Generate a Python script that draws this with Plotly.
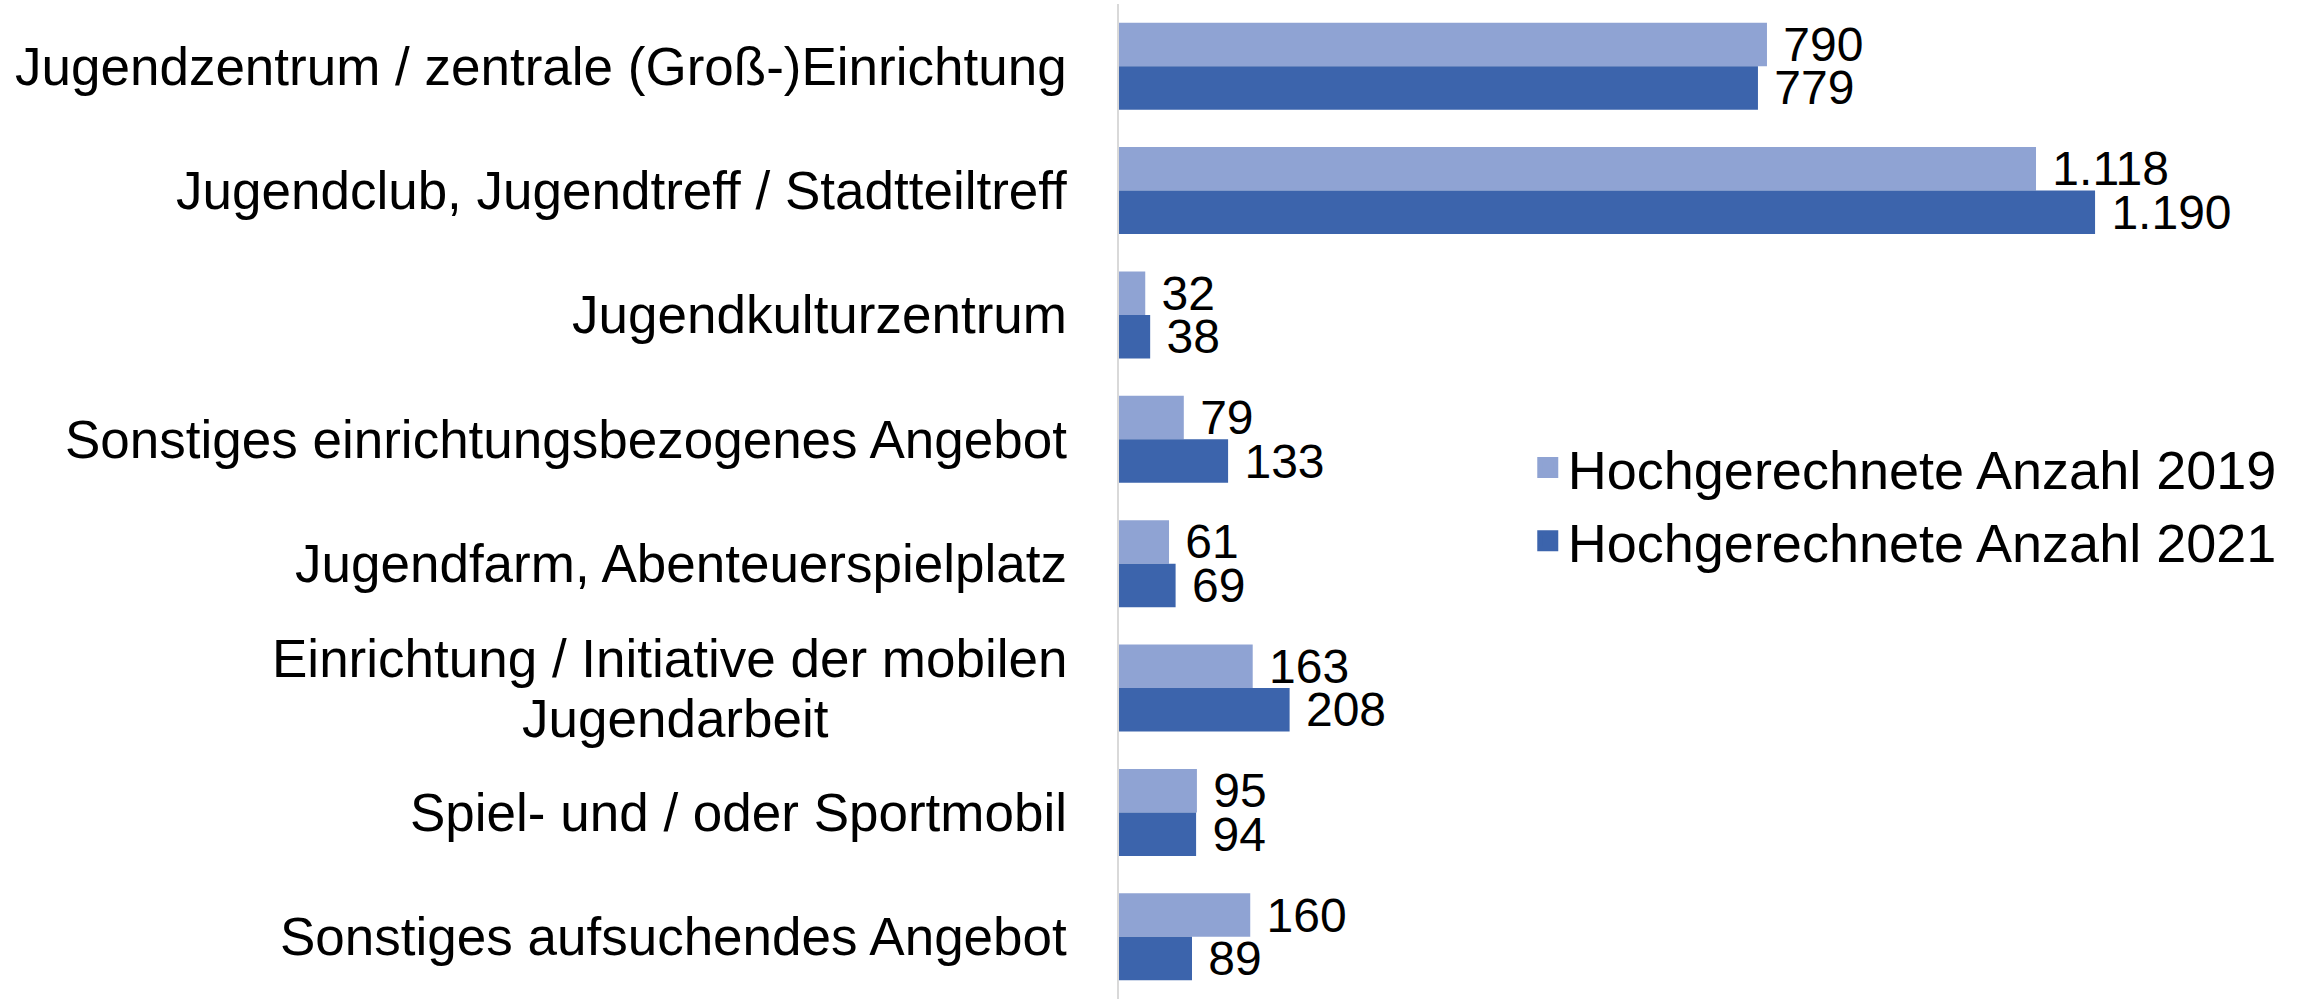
import plotly.graph_objects as go

categories = [
    "Jugendzentrum / zentrale (Groß-)Einrichtung",
    "Jugendclub, Jugendtreff / Stadtteiltreff",
    "Jugendkulturzentrum",
    "Sonstiges einrichtungsbezogenes Angebot",
    "Jugendfarm, Abenteuerspielplatz",
    "Einrichtung / Initiative der mobilen<br>Jugendarbeit",
    "Spiel- und / oder Sportmobil",
    "Sonstiges aufsuchendes Angebot",
]
values_2019 = [790, 1118, 32, 79, 61, 163, 95, 160]
values_2021 = [779, 1190, 38, 133, 69, 208, 94, 89]
series_names = ["Hochgerechnete Anzahl 2019", "Hochgerechnete Anzahl 2021"]
colors = ["#8FA3D3", "#3C64AC"]

FONT = "Liberation Sans, Arial, sans-serif"
LABEL_SIZE = 53
LINE_SPACING = 60
LABEL_GAP = 50          # gap between label right edge and axis line
FIRST_LINE_WIDTH = 787  # width of the first line of wrapped labels (px)

fig = go.Figure()
for name, vals, col in zip(series_names, [values_2019, values_2021], colors):
    fig.add_trace(go.Bar(
        y=categories, x=vals, orientation="h", name=name,
        marker=dict(color=col, line=dict(width=0)),
        texttemplate="\u00a0%{x:,}", textposition="outside",
        textfont=dict(family=FONT, size=48, color="black"),
        constraintext="none", cliponaxis=False, showlegend=False,
        hoverinfo="skip",
    ))
    # legend entry with a larger square symbol
    fig.add_trace(go.Scatter(
        x=[None], y=[None], mode="markers", name=name,
        marker=dict(symbol="square", size=16, color=col,
                    line=dict(color=col, width=5)),
        showlegend=True, hoverinfo="skip",
    ))

# category labels (centre-aligned when wrapped, like the original)
for cat in categories:
    lines = cat.split("<br>")
    font = dict(family=FONT, size=LABEL_SIZE, color="black")
    if len(lines) == 1:
        fig.add_annotation(
            x=0, y=cat, xref="x", yref="y", text=cat, showarrow=False,
            xanchor="right", yanchor="middle", xshift=-LABEL_GAP, font=font,
        )
    else:
        fig.add_annotation(
            x=0, y=cat, xref="x", yref="y", text=lines[0], showarrow=False,
            xanchor="right", yanchor="middle", xshift=-LABEL_GAP,
            yshift=LINE_SPACING / 2, font=font,
        )
        fig.add_annotation(
            x=0, y=cat, xref="x", yref="y", text=lines[1], showarrow=False,
            xanchor="center", yanchor="middle",
            xshift=-LABEL_GAP - FIRST_LINE_WIDTH / 2,
            yshift=-LINE_SPACING / 2, font=font,
        )

fig.update_layout(
    width=2297, height=999,
    margin=dict(l=1119, r=0, t=4, b=0),
    paper_bgcolor="white", plot_bgcolor="white",
    barmode="group", bargap=0.3, bargroupgap=0,
    separators=",.",
    showlegend=True,
    legend=dict(
        x=0.347, y=0.497, xanchor="left", yanchor="middle",
        font=dict(family=FONT, size=54, color="black"),
        bgcolor="rgba(0,0,0,0)", tracegroupgap=0,
    ),
    xaxis=dict(range=[0, 1436.2], visible=False, fixedrange=True),
    yaxis=dict(
        autorange="reversed", showticklabels=False, ticks="",
        showline=True, linecolor="#D9D9D9", linewidth=2,
        showgrid=False, zeroline=False, fixedrange=True,
    ),
)

fig.write_html("out.html", config={"displayModeBar": False},
               post_script="document.body.style.margin='0';")
